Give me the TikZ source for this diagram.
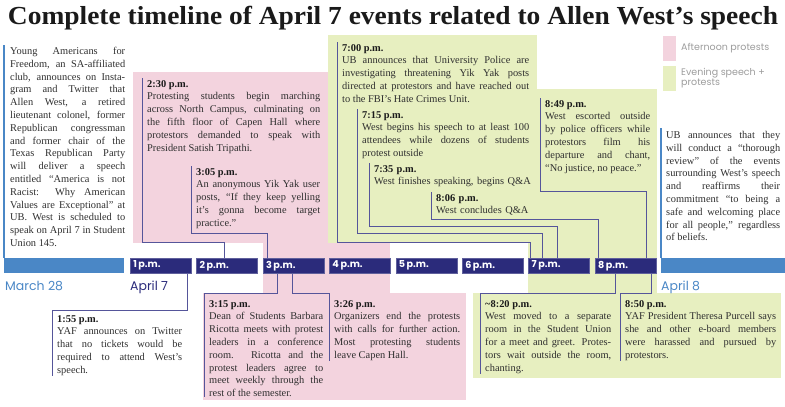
\documentclass[tikz,border=0pt]{standalone}
\usepackage{fontspec}
\usepackage{graphicx}
\setmainfont{Liberation Serif}
\newfontfamily\popfont{Poppins}
\definecolor{pinkbg}{HTML}{F3D3DE}
\definecolor{greenbg}{HTML}{E7EFC0}
\definecolor{hournavy}{HTML}{2B2B7B}
\definecolor{daysky}{HTML}{4A87C6}
\definecolor{linkblue}{HTML}{55559A}
\definecolor{bodygray}{HTML}{2F2F2F}
\definecolor{titleblack}{HTML}{1A1A1A}
\definecolor{leggray}{HTML}{9C9C9C}
\newcommand{\evtime}[1]{\textbf{\color{titleblack}#1}}

\begin{document}
\begin{tikzpicture}[x=1pt, y=-1pt,
	evtext/.style={anchor=north west, inner sep=0pt, align=justify, text=bodygray, font=\fontsize{10.4}{12.8}\selectfont},
	hourbox/.style={anchor=north west, fill=hournavy, draw=hournavy!75!white, line width=0.5pt, text=white, font=\fontsize{9.6}{9.6}\popfont\bfseries, text width=55pt, inner xsep=3pt, inner ysep=0pt, minimum height=15pt, align=left},
	daybar/.style={anchor=north west, fill=daysky, inner sep=0pt, minimum height=15pt},
	link/.style={linkblue, line width=0.8pt},
	dayline/.style={daysky, line width=1.2pt},
	daylabel/.style={anchor=west, inner sep=0pt, font=\fontsize{12.5}{12.5}\popfont},
	legendtext/.style={anchor=west, inner sep=0pt, align=left, text=leggray, font=\fontsize{9.5}{10}\popfont}]
	\useasboundingbox (0,0) rectangle (785,407);
	\fill[pinkbg] (133,72) rectangle (390,243);
	\fill[pinkbg] (263,243) rectangle (390,293);
	\fill[pinkbg] (203,293) rectangle (466,400);
	\fill[greenbg] (328,35) rectangle (537,243);
	\fill[greenbg] (528,89) rectangle (657,293);
	\fill[greenbg] (473,293) rectangle (781,378);
	\fill[pinkbg] (663,36) rectangle (676,61);
	\fill[greenbg] (663,66) rectangle (676,91);
	\node[inner sep=0pt, text=titleblack] (title) at (393,18) {\resizebox{770pt}{\height}{\fontsize{26}{26}\selectfont\bfseries Complete timeline of April 7 events related to Allen West’s speech}};
	\node[legendtext] (legpm) at (681,48) {Afternoon protests};
	\node[legendtext] (legeve) at (681,78) {Evening speech +\\protests};
	\foreach \h in {1,...,8}
		\node[hourbox] (h\h) at ({130+66.4*(\h-1)},258) {\h\,p.m.};
	\node[daybar, minimum width=120pt] (mar28bar) at (4,258) {};
	\node[daybar, minimum width=124pt] (apr8bar) at (661,258) {};
	\node[daylabel, text=daysky] (mar28) at (5,286) {March 28};
	\node[daylabel, text=hournavy] (apr7) at (130,287) {April 7};
	\node[daylabel, text=daysky] (apr8) at (661,287) {April 8};
	\node[evtext, text width=115pt] (marchtext) at (10,47) {Young Americans for\linebreak Freedom, an SA-affiliated\linebreak club, announces on Insta-\linebreak gram and Twitter that\linebreak Allen West, a retired\linebreak lieutenant colonel, former\linebreak Republican congressman\linebreak and former chair of the\linebreak Texas Republican Party\linebreak will deliver a speech\linebreak entitled “America is not\linebreak Racist: Why American\linebreak Values are Exceptional” at\linebreak UB. West is scheduled to\linebreak speak on April 7 in Student\linebreak Union 145.};
	\node[evtext, text width=114pt] (ubtext) at (666,131) {UB announces that they\linebreak will conduct a “thorough\linebreak review” of the events\linebreak surrounding West’s speech\linebreak and reaffirms their\linebreak commitment “to being a\linebreak safe and welcoming place\linebreak for all people,” regardless\linebreak of beliefs.};
	\node[evtext, text width=173pt] (e230) at (147,80) {\evtime{2:30 p.m.}\\ Protesting students begin marching\linebreak across North Campus, culminating on\linebreak the fifth floor of Capen Hall where\linebreak protestors demanded to speak with\linebreak President Satish Tripathi.};
	\node[evtext, text width=124pt] (e305) at (196,168) {\evtime{3:05 p.m.}\\ An anonymous Yik Yak user\linebreak posts, “If they keep yelling\linebreak it’s gonna become target\linebreak practice.”};
	\node[evtext, text width=187pt] (e700) at (342,44) {\evtime{7:00 p.m.}\\ UB announces that University Police are\linebreak investigating threatening Yik Yak posts\linebreak directed at protestors and have reached out\linebreak to the FBI’s Hate Crimes Unit.};
	\node[evtext, text width=167pt] (e715) at (362,111) {\evtime{7:15 p.m.}\\ West begins his speech to at least 100\linebreak attendees while dozens of students\linebreak protest outside};
	\node[evtext, text width=160pt, align=left] (e735) at (374,165) {\evtime{7:35 p.m.}\\ West finishes speaking, begins Q\&A};
	\node[evtext, text width=100pt, align=left] (e806) at (436,194) {\evtime{8:06 p.m.}\\ West concludes Q\&A};
	\node[evtext, text width=105pt] (e849) at (545,100) {\evtime{8:49 p.m.}\\ West escorted outside\linebreak by police officers while\linebreak protestors film his\linebreak departure and chant,\linebreak “No justice, no peace.”};
	\node[evtext, text width=125pt] (e155) at (57,315) {\evtime{1:55 p.m.}\\ YAF announces on Twitter\linebreak that no tickets would be\linebreak required to attend West’s\linebreak speech.};
	\node[evtext, text width=114pt] (e315) at (209,300) {\evtime{3:15 p.m.}\\ Dean of Students Barbara\linebreak Ricotta meets with protest\linebreak leaders in a conference\linebreak room. Ricotta and the\linebreak protest leaders agree to\linebreak meet weekly through the\linebreak rest of the semester.};
	\node[evtext, text width=126pt] (e326) at (334,300) {\evtime{3:26 p.m.}\\ Organizers end the protests\linebreak with calls for further action.\linebreak Most protesting students\linebreak leave Capen Hall.};
	\node[evtext, text width=126pt] (e820) at (485,300) {\evtime{\textasciitilde 8:20 p.m.}\\ West moved to a separate\linebreak room in the Student Union\linebreak for a meet and greet. Protes-\linebreak tors wait outside the room,\linebreak chanting.};
	\node[evtext, text width=151pt] (e850) at (625,300) {\evtime{8:50 p.m.}\\ YAF President Theresa Purcell says\linebreak she and other e-board members\linebreak were harassed and pursued by\linebreak protestors.};
	\draw[dayline] (mar28bar.north west) -- (mar28bar.north west |- marchtext.north) -- ++(0,-2);
	\draw[dayline] (apr8bar.north west) -- (apr8bar.north west |- ubtext.north) -- ++(0,-3);
	\draw[link] ([xshift=-3pt]h2.north) -- ++(0,-16) -| ([xshift=-5pt,yshift=2pt]e230.north west);
	\draw[link] ([xshift=-26pt]h3.north) -- ++(0,-25) -| ([xshift=-5pt,yshift=2pt]e305.north west);
	\draw[link] ([xshift=-29pt]h7.north) -- ++(0,-16) -| ([xshift=-5pt,yshift=2pt]e700.north west);
	\draw[link] ([xshift=-17pt]h7.north) -- ++(0,-25) -| ([xshift=-5pt,yshift=2pt]e715.north west);
	\draw[link] ([xshift=-2pt]h7.north) -- ++(0,-32) -| ([xshift=-5pt,yshift=2pt]e735.north west);
	\draw[link] ([xshift=-27pt]h8.north) -- ++(0,-39) -| ([xshift=-5pt,yshift=2pt]e806.north west);
	\draw[link] ([xshift=21pt]h8.north) -- ++(0,-67) -| ([xshift=-5pt,yshift=2pt]e849.north west);
	\draw[link] ([xshift=26.5pt]h1.south) -- ++(0,37) -| ([xshift=-5pt]e155.south west);
	\draw[link] ([xshift=-16pt]h3.south) -- ++(0,20) -| ([xshift=-5pt]e315.south west);
	\draw[link] ([xshift=-1pt]h3.south) -- ++(0,20) -| ([xshift=-5pt]e326.south west);
	\draw[link] ([xshift=-10pt]h8.south) -- ++(0,20) -| ([xshift=-5pt]e820.south west);
	\draw[link] ([xshift=26pt]h8.south) -- ++(0,20) -| ([xshift=-5pt]e850.south west);
\end{tikzpicture}
\end{document}
